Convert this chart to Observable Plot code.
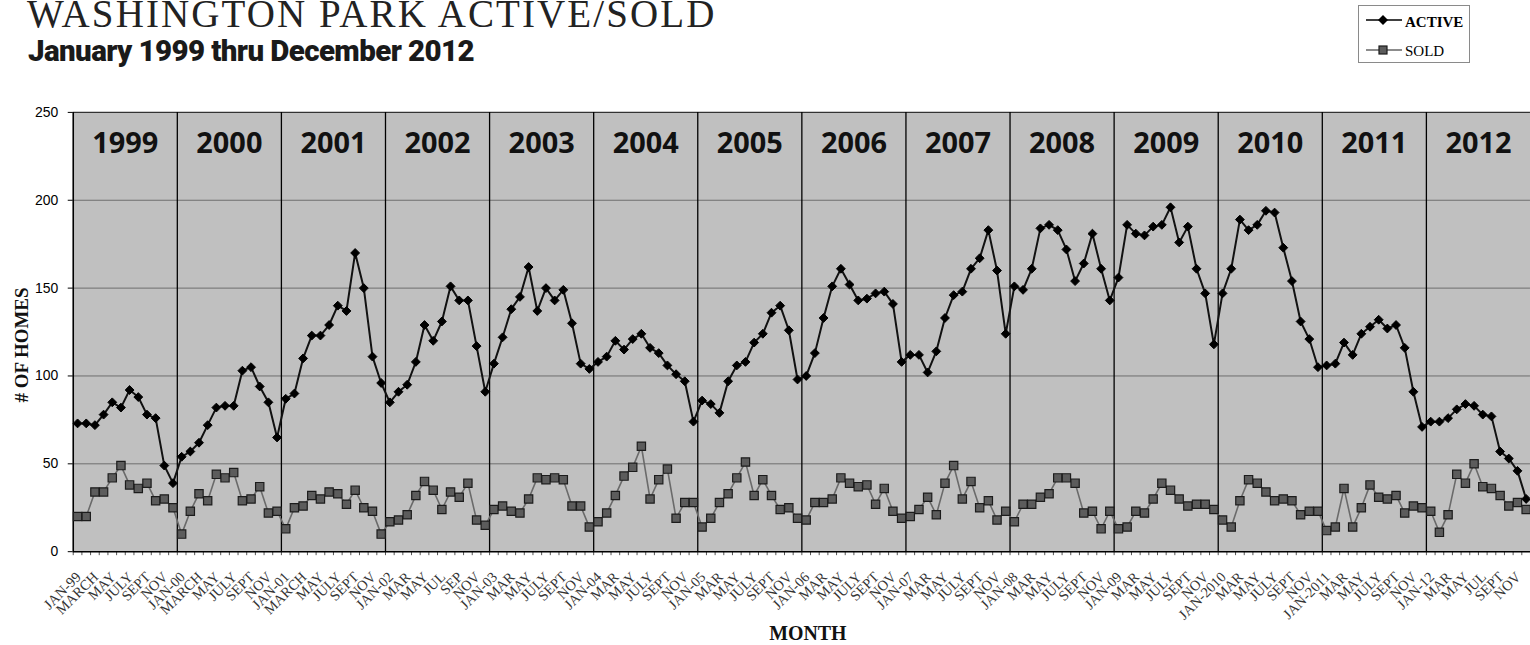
<!DOCTYPE html>
<html><head><meta charset="utf-8">
<script src="https://cdn.jsdelivr.net/npm/d3@7"></script>
<script src="https://cdn.jsdelivr.net/npm/@observablehq/plot@0.6"></script>
<style>
html,body{margin:0;padding:0;background:#fff;overflow:hidden;width:1530px;height:645px;}
#wrap{position:relative;width:1530px;height:645px;overflow:hidden;}
#title{position:absolute;left:27px;top:-6px;font-family:"Liberation Serif",serif;font-size:39px;line-height:39px;letter-spacing:2.1px;color:#222;white-space:nowrap;}
#subtitle{position:absolute;left:28px;top:36px;font-family:Roboto,sans-serif;font-weight:900;font-size:29.5px;line-height:30px;letter-spacing:-0.6px;color:#1a1a1a;white-space:nowrap;}
#legend{position:absolute;left:1358px;top:5px;width:110px;height:56px;border:1px solid #8a8a8a;background:#fff;}
#chart{position:absolute;left:0;top:88px;}
</style></head>
<body>
<div id="wrap">
  <div id="title">WASHINGTON PARK ACTIVE/SOLD</div>
  <div id="subtitle">January 1999 thru December 2012</div>
  <div id="legend">
    <svg width="110" height="56">
      <line x1="7" x2="43" y1="14" y2="14" stroke="#000" stroke-width="1.5"/>
      <path d="M24,9 L29,14 L24,19 L19,14Z" fill="#000"/>
      <text x="46" y="20.5" font-family="Liberation Serif" font-weight="bold" font-size="15">ACTIVE</text>
      <line x1="7" x2="43" y1="44" y2="44" stroke="#666" stroke-width="1.5"/>
      <rect x="20" y="40" width="8" height="8" fill="#5c5c5c" stroke="#1c1c1c" stroke-width="1.2"/>
      <text x="46" y="49.5" font-family="Liberation Serif" font-size="15">SOLD</text>
    </svg>
  </div>
  <div id="chart"></div>
</div>
<script>
const years = ["1999","2000","2001","2002","2003","2004","2005","2006","2007","2008","2009","2010","2011","2012"];

const active = [
  73,73,72,78,85,82,92,88,78,76,49,39,
  54,57,62,72,82,83,83,103,105,94,85,65,
  87,90,110,123,123,129,140,137,170,150,111,96,
  85,91,95,108,129,120,131,151,143,143,117,91,
  107,122,138,145,162,137,150,143,149,130,107,104,
  108,111,120,115,121,124,116,113,106,101,97,74,
  86,84,79,97,106,108,119,124,136,140,126,98,
  100,113,133,151,161,152,143,144,147,148,141,108,
  112,112,102,114,133,146,148,161,167,183,160,124,
  151,149,161,184,186,183,172,154,164,181,161,143,
  156,186,181,180,185,186,196,176,185,161,147,118,
  147,161,189,183,186,194,193,173,154,131,121,105,
  106,107,119,112,124,128,132,127,129,116,91,71,
  74,74,76,81,84,83,78,77,57,53,46,30
];

const sold = [
  20,20,34,34,42,49,38,36,39,29,30,25,
  10,23,33,29,44,42,45,29,30,37,22,23,
  13,25,26,32,30,34,33,27,35,25,23,10,
  17,18,21,32,40,35,24,34,31,39,18,15,
  24,26,23,22,30,42,41,42,41,26,26,14,
  17,22,32,43,48,60,30,41,47,19,28,28,
  14,19,28,33,42,51,32,41,32,24,25,19,
  18,28,28,30,42,39,37,38,27,36,23,19,
  20,24,31,21,39,49,30,40,25,29,18,23,
  17,27,27,31,33,42,42,39,22,23,13,23,
  13,14,23,22,30,39,35,30,26,27,27,24,
  18,14,29,41,39,34,29,30,29,21,23,23,
  12,14,36,14,25,38,31,30,32,22,26,25,
  23,11,21,44,39,50,37,36,32,26,28,24
];

const tickLabels = [
  "JAN-99","MARCH","MAY","JULY","SEPT","NOV",
  "JAN-00","MARCH","MAY","JULY","SEPT","NOV",
  "JAN-01","MARCH","MAY","JULY","SEPT","NOV",
  "JAN-02","MAR","MAY","JUL","SEP","NOV",
  "JAN-03","MAR","MAY","JULY","SEPT","NOV",
  "JAN-04","MAR","MAY","JULY","SEPT","NOV",
  "JAN-05","MAR","MAY","JULY","SEPT","NOV",
  "JAN-06","MAR","MAY","JULY","SEPT","NOV",
  "JAN-07","MAR","MAY","JULY","SEPT","NOV",
  "JAN-08","MAR","MAY","JULY","SEPT","NOV",
  "JAN-09","MAR","MAY","JULY","SEPT","NOV",
  "JAN-2010","MAR","MAY","JULY","SEPT","NOV",
  "JAN-2011","MAR","MAY","JULY","SEPT","NOV",
  "JAN-12","MAR","MAY","JUL","SEPT","NOV"
];

const yTicks = [0,50,100,150,200,250];

const rows = active.map((a, i) => ({i, active: a, sold: sold[i]}));
const tickRows = tickLabels.map((t, k) => ({i: 2 * k, t}));
const yearRows = years.map((y, k) => ({mid: 12 * k + 5.5, y}));
const dividers = years.slice(1).map((y, k) => 12 * (k + 1) - 0.5);
const bounds = d3.range(active.length + 1).map(i => i - 0.5);

const chart = Plot.plot({
  width: 1536,
  height: 557,
  marginLeft: 73,
  marginRight: 0,
  marginTop: 24,
  marginBottom: 92,
  x: {domain: [-0.5, active.length - 0.5], axis: null},
  y: {domain: [0, 250], axis: null},
  style: {background: "transparent", overflow: "visible"},
  marks: [
    Plot.frame({fill: "#c0c0c0", stroke: null}),
    Plot.gridY(yTicks.slice(1, -1), {stroke: "#6e6e6e", strokeOpacity: 1, strokeWidth: 1}),
    Plot.ruleY([250], {stroke: "#333", strokeWidth: 1.2}),
    Plot.ruleX(dividers, {y1: 0, y2: 250, stroke: "#000", strokeWidth: 1.3}),
    Plot.axisX(bounds, {tickSize: 4, tickFormat: () => "", label: null, stroke: "#555"}),
    Plot.ruleY([0], {stroke: "#000", strokeWidth: 1.6}),
    Plot.ruleX([-0.5], {stroke: "#000", strokeWidth: 1.6}),
    Plot.axisY(yTicks, {tickSize: 5, tickPadding: 10, fontSize: 14, fontFamily: "Liberation Sans", label: null, stroke: "#000", color: "#000"}),
    Plot.text(yearRows, {x: "mid", y: () => 232, text: "y", fontSize: 29, fontWeight: 700, fontFamily: "Open Sans", fill: "#111"}),
    Plot.line(rows, {x: "i", y: "sold", stroke: "#6a6a6a", strokeWidth: 1.6}),
    Plot.dot(rows, {x: "i", y: "sold", symbol: "square", r: 4.7, fill: "#5c5c5c", stroke: "#1c1c1c", strokeWidth: 1.2}),
    Plot.line(rows, {x: "i", y: "active", stroke: "#111", strokeWidth: 2}),
    Plot.dot(rows, {x: "i", y: "active", symbol: "diamond2", r: 4, fill: "#000", stroke: "#000", strokeWidth: 1}),
    Plot.text(tickRows, {x: "i", y: () => 0, text: "t", rotate: -45, textAnchor: "end", lineAnchor: "middle", dx: 1, dy: 23, fontSize: 14.5, fontFamily: "Liberation Serif", fill: "#333"}),
    Plot.text(["# OF HOMES"], {frameAnchor: "left", text: d => d, rotate: -90, textAnchor: "middle", lineAnchor: "middle", dx: -51, dy: 13, fontSize: 19, fontWeight: "bold", fontFamily: "Liberation Serif", fill: "#111"}),
    Plot.text(["MONTH"], {frameAnchor: "bottom", text: d => d, textAnchor: "middle", lineAnchor: "middle", dx: 6, dy: 82, fontSize: 20, fontWeight: "bold", fontFamily: "Liberation Serif", fill: "#111"})
  ]
});
document.getElementById("chart").appendChild(chart);
</script>
</body></html>
